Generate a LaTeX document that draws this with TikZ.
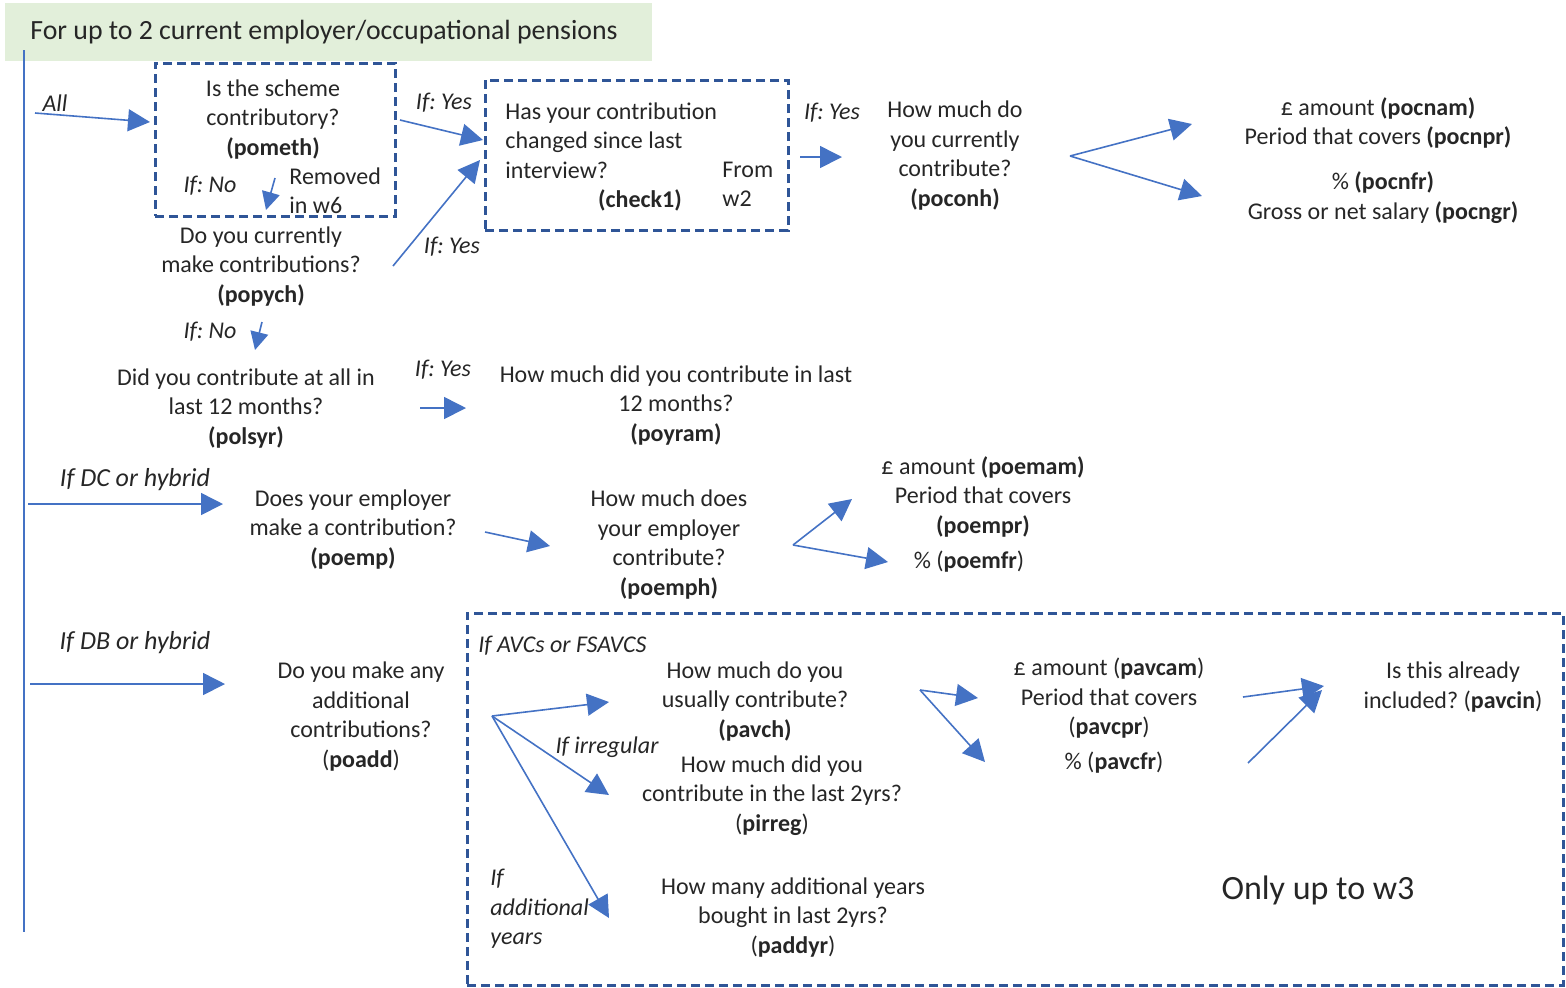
\documentclass[tikz,border=0pt]{standalone}
\usepackage{fontspec}
\setmainfont{Carlito}
\usetikzlibrary{arrows.meta}
\definecolor{linkblue}{HTML}{4472C4}
\definecolor{boxblue}{HTML}{2F5597}
\definecolor{headgreen}{HTML}{E2EFDA}
\frenchspacing
\tikzset{
    question/.style = {
        align=center,
        inner sep=0pt,
        font=\fontsize{12}{14.75}\selectfont,
        text=black!85,
        },
    cond/.style = {
        question,
        font=\fontsize{12}{14.75}\selectfont\itshape,
        },
    dashbox/.style = {
        draw=boxblue,
        line width=1.5pt,
        dash pattern=on 4.5pt off 2.5pt,
        inner sep=0pt,
        },
    link/.style = {
        draw=linkblue,
        line width=0.8pt,
        -{Triangle[length=11pt,width=11pt]},
        },
    small link/.style = {
        link,
        -{Triangle[length=9pt,width=9pt]},
        },
}
\begin{document}
\begin{tikzpicture}[x=0.5pt,y=-0.5pt]
            \useasboundingbox (0,0) rectangle (1566,987);

            % header and left rail
            \node[fill=headgreen, anchor=north west, minimum width=323.5pt, minimum height=29pt,
                inner sep=0pt] (head) at (5,3) {};
            \node[question, anchor=west, font=\fontsize{13.9}{15}\selectfont] (headtext) at (30,32)
                {For up to 2 current employer/occupational pensions};
            \coordinate (railtop) at (24,50);
            \coordinate (railbot) at (24,932);
            \draw[linkblue, line width=0.8pt] (railtop) -- (railbot);

            % dashed boxes
            \node[dashbox, minimum width=120pt, minimum height=76.5pt] (box1) at (275,139.5) {};
            \node[dashbox, minimum width=151.5pt, minimum height=75pt] (box2) at (636.5,155) {};
            \node[dashbox, minimum width=548pt, minimum height=186pt] (box3) at (1015,799) {};

            % current contributions
            \node[cond] (all) at (55,103) {All};
            \node[question] (pometh) at (273,119.5) {Is the scheme\\contributory?\\\textbf{(pometh)}};
            \node[cond] (no1) at (210,186) {If: No};
            \node[question, align=left, anchor=west] (removed) at (289,190.5) {Removed\\in w6};
            \node[question] (popych) at (261,266.5) {Do you currently\\make contributions?\\\textbf{(popych)}};
            \node[cond] (yes1) at (444,103) {If: Yes};
            \node[cond] (yes2) at (452,247) {If: Yes};
            \node[question, align=left, anchor=west] (check) at (505,140.5) {Has your contribution\\changed since last\\interview?};
            \node[question] (check1) at (640,200) {\textbf{(check1)}};
            \node[question, align=left, anchor=west] (from) at (722,184.5) {From\\w2};
            \node[cond] (yes3) at (832,113) {If: Yes};
            \node[question] (poconh) at (955,155.5) {How much do\\you currently\\contribute?\\\textbf{(poconh)}};
            \node[question] (pocnam) at (1378,123) {£ amount \textbf{(pocnam)}\\Period that covers \textbf{(pocnpr)}};
            \node[question] (pocnfr) at (1383,197.5) {\% \textbf{(pocnfr)}\\Gross or net salary \textbf{(pocngr)}};

            % last 12 months
            \node[cond] (no2) at (210,332) {If: No};
            \node[question] (polsyr) at (246,408.5) {Did you contribute at all in\\last 12 months?\\\textbf{(polsyr)}};
            \node[cond] (yes4) at (443,370) {If: Yes};
            \node[question] (poyram) at (676,405.5) {How much did you contribute in last\\12 months?\\\textbf{(poyram)}};

            % employer contributions
            \node[cond, font=\fontsize{13}{15}\selectfont\itshape] (dc) at (135,480) {If DC or hybrid};
            \node[question] (poemp) at (353,529.5) {Does your employer\\make a contribution?\\\textbf{(poemp)}};
            \node[question] (poemph) at (669,544.5) {How much does\\your employer\\contribute?\\\textbf{(poemph)}};
            \node[question] (poemam) at (983,496.5) {£ amount \textbf{(poemam)}\\Period that covers\\\textbf{(poempr)}};
            \node[question] (poemfr) at (969,562) {\% (\textbf{poemfr})};

            % additional contributions
            \node[cond, font=\fontsize{13}{15}\selectfont\itshape] (db) at (135,643) {If DB or hybrid};
            \node[question] (poadd) at (361,716.5) {Do you make any\\additional\\contributions?\\(\textbf{poadd})};
            \node[cond, anchor=west] (avc) at (478,646) {If AVCs or FSAVCS};
            \node[question] (pavch) at (755,701.5) {How much do you\\usually contribute?\\\textbf{(pavch)}};
            \node[cond] (irreg) at (607,747) {If irregular};
            \node[question] (pirreg) at (772,795.5) {How much did you\\contribute in the last 2yrs?\\(\textbf{pirreg})};
            \node[cond, align=left, anchor=west] (addyrs) at (490,909) {If\\additional\\years};
            \node[question] (paddyr) at (793,917.5) {How many additional years\\bought in last 2yrs?\\(\textbf{paddyr})};
            \node[question] (pavcam) at (1109,698.5) {£ amount (\textbf{pavcam})\\Period that covers\\(\textbf{pavcpr})};
            \node[question] (pavcfr) at (1114,763) {\% (\textbf{pavcfr})};
            \node[question] (pavcin) at (1453,687) {Is this already\\included? (\textbf{pavcin})};
            \node[question, font=\fontsize{17}{20}\selectfont] (w3) at (1318,890) {Only up to w3};

            % arrow ends
            \coordinate (allA) at (35,113);     \coordinate (allB) at (150,122);
            \coordinate (noA) at (275,178);     \coordinate (noB) at (266,210);
            \coordinate (yesA) at (400,120);    \coordinate (yesB) at (483,140);
            \coordinate (curA) at (393,266);    \coordinate (curB) at (480,160);
            \coordinate (chkA) at (800,157);    \coordinate (chkB) at (842,157);
            \coordinate (forkA) at (1070,156);
            \coordinate (camB) at (1192,124);   \coordinate (cfrB) at (1202,196);
            \coordinate (no2A) at (262,322);    \coordinate (no2B) at (255,350);
            \coordinate (lsyA) at (420,408);    \coordinate (lsyB) at (466,408);
            \coordinate (dcA) at (28,504);      \coordinate (dcB) at (223,504);
            \coordinate (empA) at (485,532);    \coordinate (empB) at (550,546);
            \coordinate (forkB) at (793,545);
            \coordinate (emamB) at (852,499);   \coordinate (emfrB) at (888,562);
            \coordinate (dbA) at (30,684);      \coordinate (dbB) at (225,684);
            \coordinate (forkC) at (492,716);
            \coordinate (avchB) at (609,702);   \coordinate (irrB) at (609,795);
            \coordinate (addB) at (609,918);
            \coordinate (forkD) at (920,690);
            \coordinate (avamB) at (978,698);   \coordinate (avfrB) at (985,762);
            \coordinate (incA) at (1243,697);   \coordinate (incB) at (1324,686);
            \coordinate (inc2A) at (1248,763);  \coordinate (inc2B) at (1322,690);

            \path (allA) edge[link] (allB);
            \path (noA) edge[small link] (noB);
            \path (yesA) edge[link] (yesB);
            \path (curA) edge[link] (curB);
            \path (chkA) edge[link] (chkB);
            \path (forkA) edge[link] (camB);
            \path (forkA) edge[link] (cfrB);
            \path (no2A) edge[small link] (no2B);
            \path (lsyA) edge[link] (lsyB);
            \path (dcA) edge[link] (dcB);
            \path (empA) edge[link] (empB);
            \path (forkB) edge[link] (emamB);
            \path (forkB) edge[link] (emfrB);
            \path (dbA) edge[link] (dbB);
            \path (forkC) edge[link] (avchB);
            \path (forkC) edge[link] (irrB);
            \path (forkC) edge[link] (addB);
            \path (forkD) edge[link] (avamB);
            \path (forkD) edge[link] (avfrB);
            \path (incA) edge[link] (incB);
            \path (inc2A) edge[link] (inc2B);
        \end{tikzpicture}
\end{document}
